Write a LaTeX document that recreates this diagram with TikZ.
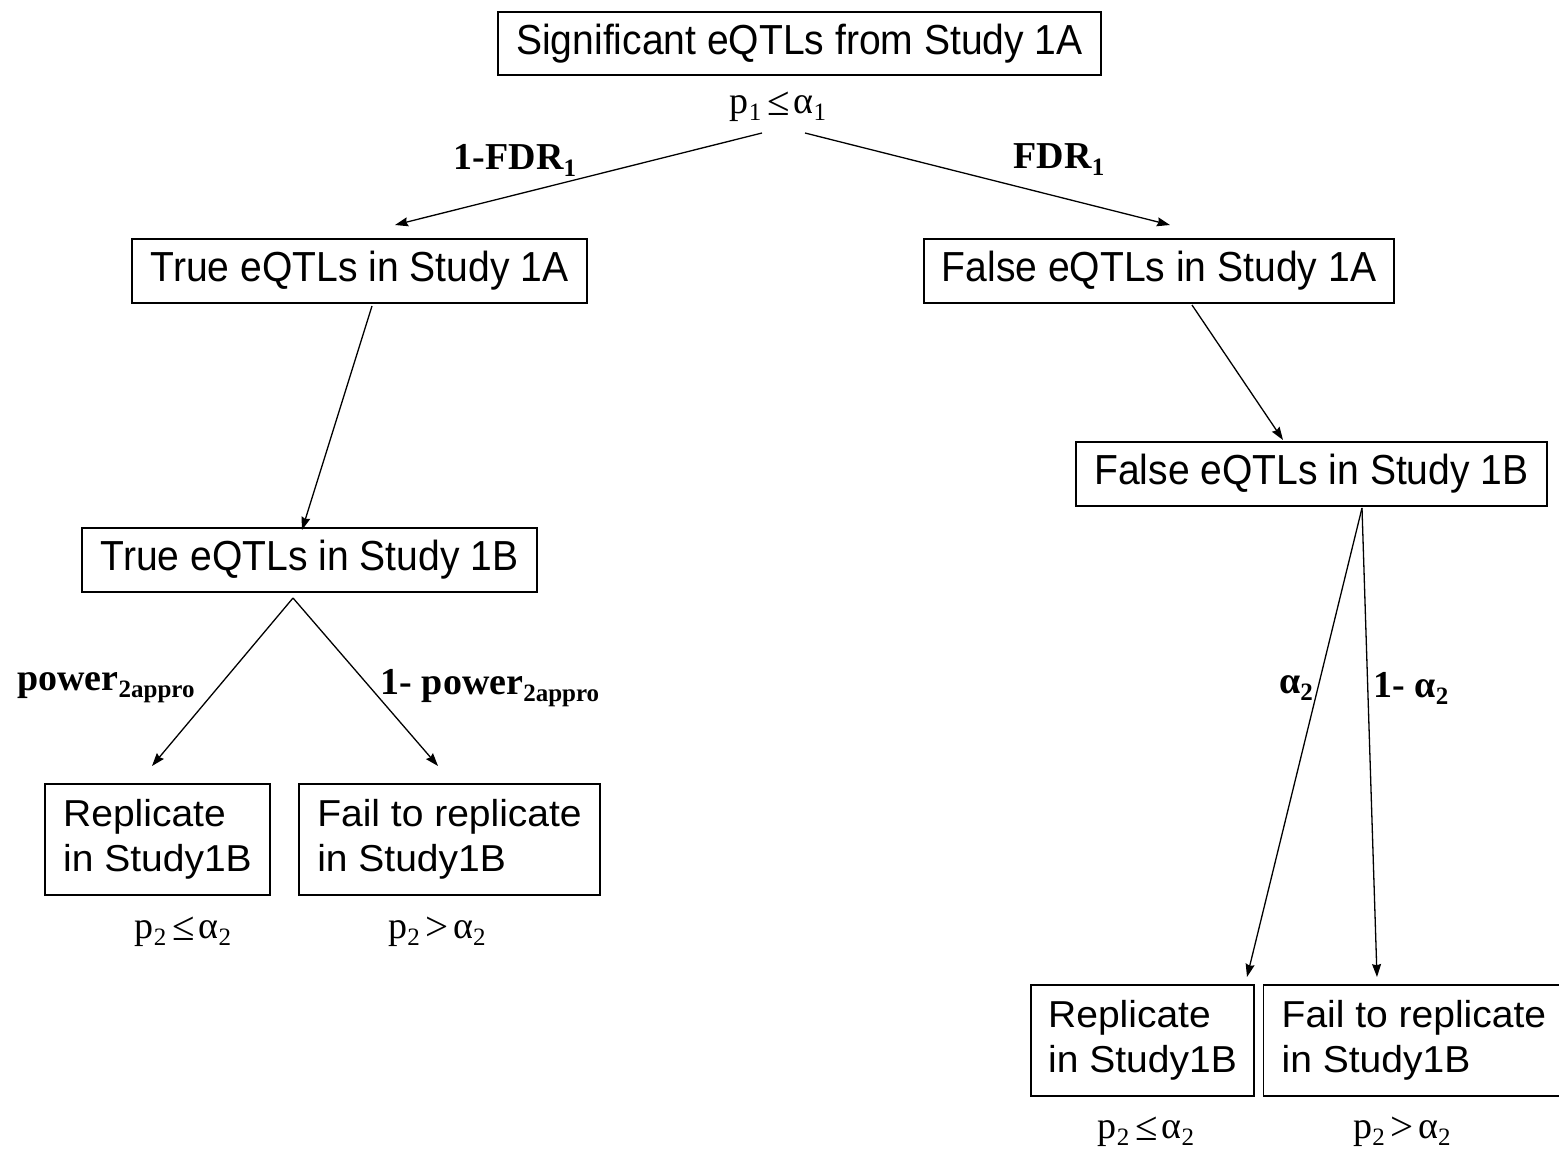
\documentclass[tikz,border=0pt]{standalone}
\usepackage{fontspec}
\setmainfont{Liberation Serif}
\newfontfamily\sansA{Liberation Sans}[FakeStretch=0.93]
\newfontfamily\sansB{Liberation Sans}[FakeStretch=1.04]
\usetikzlibrary{arrows.meta}
\newcommand{\lsub}[1]{\raisebox{-7pt}{\fontsize{25}{25}\selectfont #1}}
\newcommand{\myle}{\hspace{6pt}\raisebox{-2pt}{\fontsize{41}{41}\selectfont ≤}\hspace{4pt}}
\newcommand{\mygt}{\hspace{6pt}\raisebox{-2pt}{\fontsize{41}{41}\selectfont >}\hspace{4pt}}
\begin{document}
\begin{tikzpicture}[x=1pt,y=-1pt,
  box/.style={draw,line width=1.4pt,inner sep=0pt,font=\sansA\fontsize{42}{44}\selectfont},
  twobox/.style={draw,line width=1.4pt,inner sep=0pt,align=left,minimum height=111pt,font=\sansB\fontsize{37.5}{45}\selectfont},
  lbl/.style={font=\fontsize{38}{40}\selectfont,inner sep=0pt},
  blbl/.style={font=\bfseries\fontsize{38}{40}\selectfont,inner sep=0pt},
  arr/.style={line width=1.3pt,-{Stealth[length=13pt,width=9pt,inset=1.5pt]}}]
\useasboundingbox (0,0) rectangle (1559,1155);
% boxes
\node[box,minimum width=603pt,minimum height=63pt] (top) at (799.5,43.5) {Significant eQTLs from Study 1A};
\node[box,minimum width=455pt,minimum height=64pt] (t1a) at (359.5,271) {True eQTLs in Study 1A};
\node[box,minimum width=470pt,minimum height=64pt] (f1a) at (1159,271) {False eQTLs in Study 1A};
\node[box,minimum width=471pt,minimum height=64pt] (f1b) at (1311.5,474) {False eQTLs in Study 1B};
\node[box,minimum width=455pt,minimum height=64pt] (t1b) at (309.5,560) {True eQTLs in Study 1B};
\node[twobox,minimum width=225pt] (rep1) at (157.5,839.5) {Replicate\\in Study1B};
\node[twobox,minimum width=301pt] (fail1) at (449.5,839.5) {Fail to replicate\\in Study1B};
\node[twobox,minimum width=223pt] (rep2) at (1142.5,1040.5) {Replicate\\in Study1B};
\node[twobox,inner xsep=18pt,anchor=west] (fail2) at (1263,1040.5) {Fail to replicate\\in Study1B};
% condition labels
\node[lbl] (c0) at (778,107) {p\lsub{1}\myle α\lsub{1}};
\node[lbl] (c1) at (183,932) {p\lsub{2}\myle α\lsub{2}};
\node[lbl] (c2) at (437,932) {p\lsub{2}\mygt α\lsub{2}};
\node[lbl] (c3) at (1146,1132) {p\lsub{2}\myle α\lsub{2}};
\node[lbl] (c4) at (1402,1132) {p\lsub{2}\mygt α\lsub{2}};
% branch labels
\node[blbl] (l1) at (515,160) {1-FDR\lsub{\bfseries 1}};
\node[blbl] (l2) at (1059,160) {FDR\lsub{\bfseries 1}};
\node[blbl] (l3) at (106,688) {power\lsub{\bfseries 2appro}};
\node[blbl] (l4) at (490,688) {1- power\lsub{\bfseries 2appro}};
\node[blbl] (l5) at (1296,688) {α\lsub{\bfseries 2}};
\node[blbl] (l6) at (1411,688) {1- α\lsub{\bfseries 2}};
% connector points
\coordinate (s1) at (762,133);
\coordinate (e1) at (395,225);
\coordinate (s2) at (805,133);
\coordinate (e2) at (1170,225);
\coordinate (s3) at (372,306);
\coordinate (e3) at (302,530);
\coordinate (s4) at (1192,305);
\coordinate (e4) at (1283,440);
\coordinate (s5) at (293,598);
\coordinate (e5) at (152,766);
\coordinate (e6) at (438,766);
\coordinate (s7) at (1362,508);
\coordinate (e7) at (1247,977);
\coordinate (e8) at (1377,977);
\draw[arr] (s1) -- (e1);
\draw[arr] (s2) -- (e2);
\draw[arr] (s3) -- (e3);
\draw[arr] (s4) -- (e4);
\draw[arr] (s5) -- (e5);
\draw[arr] (s5) -- (e6);
\draw[arr] (s7) -- (e7);
\draw[arr] (s7) -- (e8);
\end{tikzpicture}
\end{document}
